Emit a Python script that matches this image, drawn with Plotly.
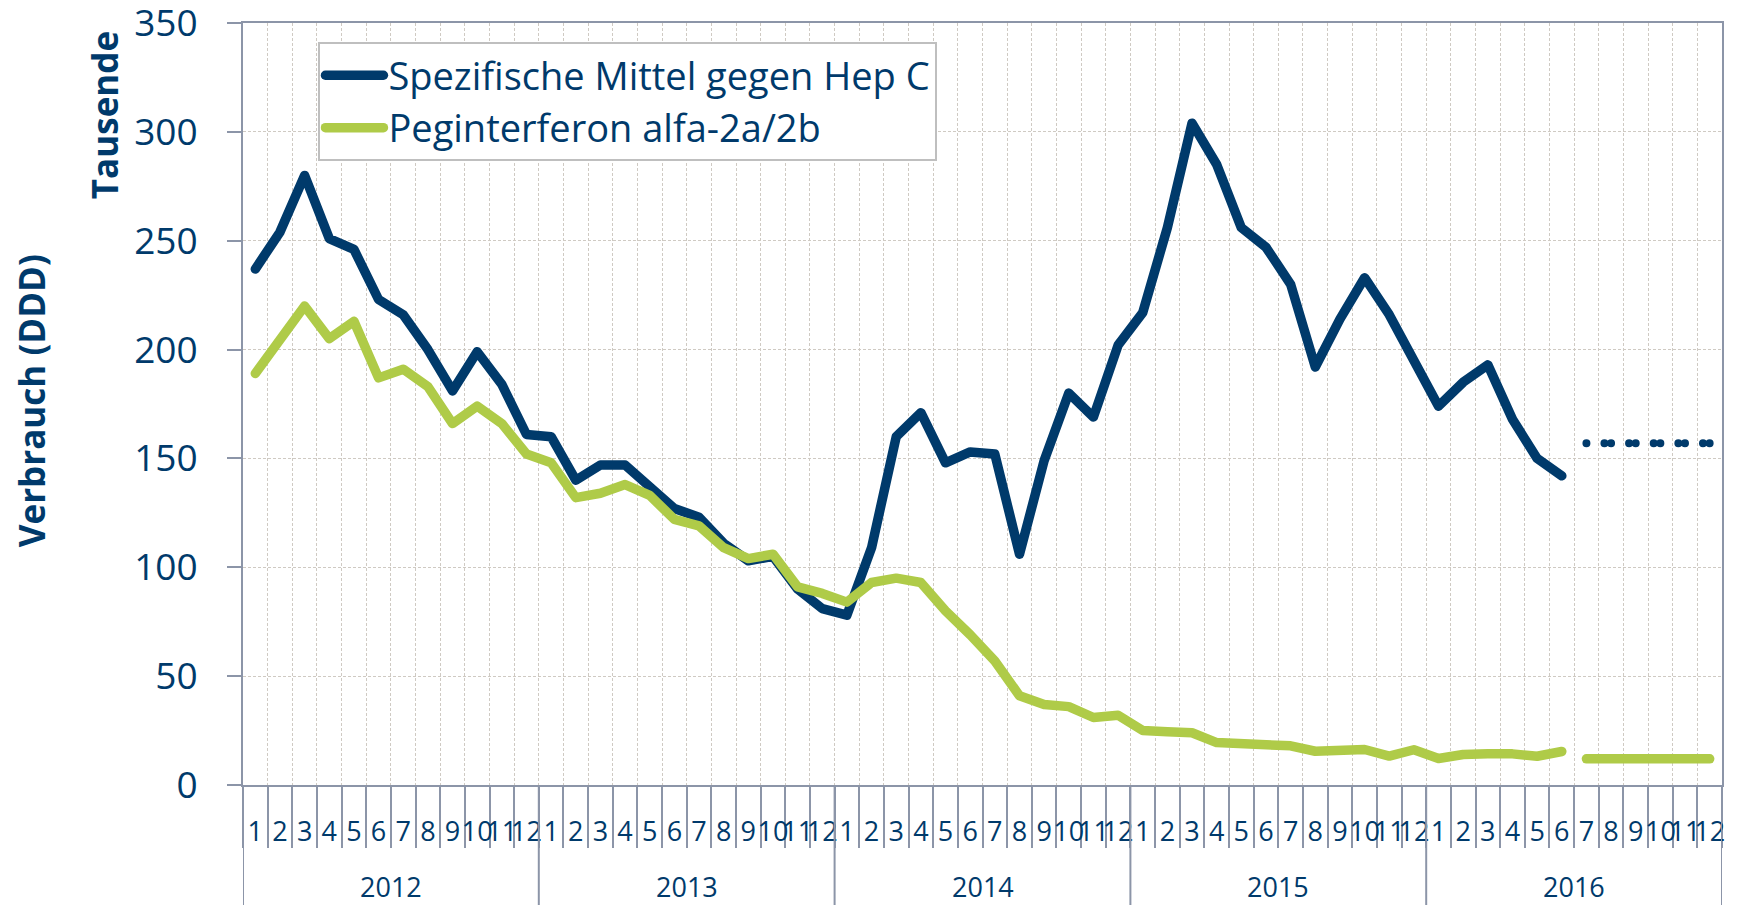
import plotly.graph_objects as go

years = ["2012", "2013", "2014", "2015", "2016"]
months = [str(m) for m in range(1, 13)]

hep_c = [237, 254, 280, 251, 246, 223, 216, 200, 181, 199, 184, 161,
         160, 140, 147, 147, 137, 127, 123, 111, 103, 105, 90, 81,
         78, 109, 160, 171, 148, 153, 152, 106, 149, 180, 169, 202,
         217, 256, 304, 285, 256, 247, 230, 192, 214, 233, 216, 194,
         174, 185, 193, 168, 150, 142]
peg = [189, 205, 220, 205, 213, 187, 191, 183, 166, 174, 166, 152,
       148, 132, 134, 138, 133, 122, 119, 109, 104, 106, 91, 88,
       84, 93, 95, 93, 80, 69, 57, 41, 37, 36, 31, 32,
       25, 24.5, 24, 19.5, 19, 18.7, 18, 15.5, 16, 16.3, 13.3, 16.2,
       12.2, 14, 14.3, 14.3, 13.2, 15.4]
hep_c_forecast = [157, 157, 157, 157, 157, 157]
peg_forecast = [12, 12, 12, 12, 12, 12]

series_names = ["Spezifische Mittel gegen Hep C", "Peginterferon alfa-2a/2b"]
y_ticks = [0, 50, 100, 150, 200, 250, 300, 350]

NAVY = "#003A6B"
GREEN = "#AFCB48"
AXIS = "#8C95A8"
GRID = "#CFCAC3"
FONT = "Open Sans"

# category keys (year + month), labelled with the month only
cats = [f"{y}-{m}" for y in years for m in months]
cat_text = [m for _ in years for m in months]
n_obs = len(hep_c)
x_obs = cats[:n_obs]
x_fc = cats[n_obs:]

fig = go.Figure()
fig.add_trace(go.Scatter(x=x_obs, y=hep_c, mode="lines", name=series_names[0],
                         line=dict(color=NAVY, width=9.5)))
fig.add_trace(go.Scatter(x=x_obs, y=peg, mode="lines", name=series_names[1],
                         line=dict(color=GREEN, width=9.5)))
fig.add_trace(go.Scatter(x=x_fc, y=hep_c_forecast, mode="lines", showlegend=False,
                         line=dict(color=NAVY, width=8, dash="0px,18px,0px,6.64px")))
fig.add_trace(go.Scatter(x=x_fc, y=peg_forecast, mode="lines", showlegend=False,
                         line=dict(color=GREEN, width=9.5)))

plot_h = 905 - 23 - 120
annotations = [
    dict(text="<b>Verbrauch (DDD)</b>", textangle=-90, xref="paper", yref="paper",
         x=-0.1425, y=0.504, xanchor="center", yanchor="middle", showarrow=False,
         font=dict(family=FONT, size=35, color=NAVY)),
    dict(text="<b>Tausende</b>", textangle=-90, xref="paper", yref="paper",
         x=-0.094, y=0.879, xanchor="center", yanchor="middle", showarrow=False,
         font=dict(family=FONT, size=35, color=NAVY)),
]
shapes = []
n_m = len(months)
for k, yr in enumerate(years):
    annotations.append(dict(text=yr, xref="x", yref="paper", x=k * n_m + (n_m - 1) / 2,
                            y=-101 / plot_h, xanchor="center", yanchor="middle",
                            showarrow=False, font=dict(family=FONT, size=27, color=NAVY)))
for k in range(len(years) + 1):
    shapes.append(dict(type="line", xref="x", yref="paper", x0=k * n_m - 0.5, x1=k * n_m - 0.5,
                       y0=0, y1=-125 / plot_h, line=dict(color=AXIS, width=2), layer="above"))

fig.update_layout(
    width=1738, height=905,
    margin=dict(l=243, r=16, t=23, b=120, autoexpand=False),
    paper_bgcolor="white", plot_bgcolor="white",
    font=dict(family=FONT, color=NAVY),
    showlegend=True,
    legend=dict(x=0.051, y=0.975, xanchor="left", yanchor="top",
                bgcolor="white", bordercolor="#BFBFBF", borderwidth=2,
                font=dict(family=FONT, size=38, color=NAVY),
                itemwidth=58, tracegroupgap=0),
    xaxis=dict(type="category", categoryorder="array", categoryarray=cats,
               range=[-0.5, len(cats) - 0.5],
               tickmode="array", tickvals=cats, ticktext=cat_text,
               tickson="boundaries", ticks="outside", automargin=False,
               ticklen=61, tickcolor=AXIS, tickwidth=2,
               showline=True, linecolor=AXIS, linewidth=2, mirror=True,
               showgrid=True, gridcolor=GRID, gridwidth=1, griddash="3px,2px",
               tickangle=0, ticklabelstandoff=22,
               tickfont=dict(family=FONT, size=27, color=NAVY)),
    yaxis=dict(range=[0, 350], tickmode="array", tickvals=y_ticks, automargin=False,
               ticks="outside", ticklen=14, ticklabeloverflow="allow",
               tickcolor=AXIS, tickwidth=2, showline=True, linecolor=AXIS,
               linewidth=2, mirror=True, showgrid=True, gridcolor=GRID,
               gridwidth=1, griddash="3px,2px", zeroline=False,
               ticklabelstandoff=22,
               tickfont=dict(family=FONT, size=37, color=NAVY)),
    annotations=annotations,
    shapes=shapes,
)

post = """
document.body.style.margin='0';
document.querySelectorAll('path.js-line').forEach(function(p){
  p.style.strokeLinecap='round'; p.style.strokeLinejoin='round';
});
"""
fig.write_html("out.html", post_script=post, config={"displayModeBar": False})
